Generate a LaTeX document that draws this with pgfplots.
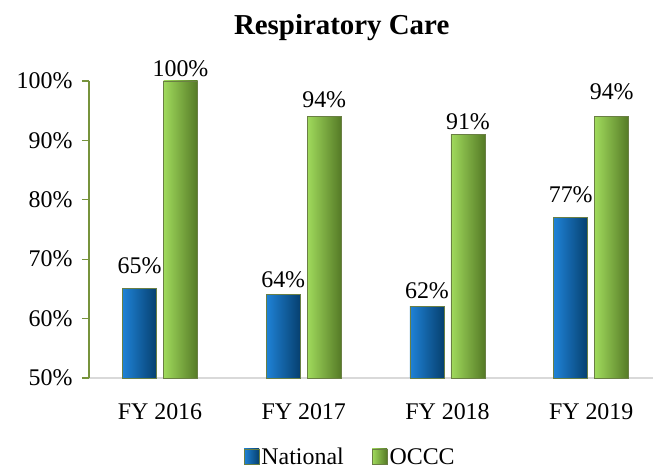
\documentclass[border=0pt]{standalone}
\usepackage{pgfplots}
\pgfplotsset{compat=1.18}
\usepackage{fontspec}
\setmainfont{Liberation Serif}
\definecolor{natL}{HTML}{1F82D6}
\definecolor{natM}{HTML}{0A6EC2}
\definecolor{natR}{HTML}{06406F}
\definecolor{ocL}{HTML}{A0DA5C}
\definecolor{ocM}{HTML}{92D050}
\definecolor{ocR}{HTML}{557A26}
\definecolor{edge}{HTML}{6A7F44}
\definecolor{yline}{HTML}{77933C}
\definecolor{xline}{HTML}{D9D9D9}
\pgfplotsset{
  natbar/.style={left color=natL, middle color=natM, right color=natR, draw=edge, line width=0.8bp, bar shift=-20.5bp},
  ocbar/.style={left color=ocL, middle color=ocM, right color=ocR, draw=edge, line width=0.8bp, bar shift=20.5bp},
  gap/.style={every node near coord/.append style={yshift=#1bp}},
}
\begin{document}
\begin{tikzpicture}[x=1bp,y=1bp]
\begin{axis}[
  at={(0,0)}, anchor=south west,
  scale only axis, width=564bp, height=297bp,
  xmin=-0.494, xmax=3.43, ymin=50, ymax=100,
  clip=false,
  ybar, bar width=34bp,
  axis x line=bottom, axis y line=left,
  x axis line style={-, draw=xline, line width=1.2bp},
  y axis line style={-, draw=yline, line width=1.2bp},
  xtick={0,1,2,3}, xticklabels={FY 2016,FY 2017,FY 2018,FY 2019},
  xtick style={draw=none},
  xticklabel style={anchor=base, yshift=-35bp},
  ytick={50,60,70,80,90,100},
  yticklabels={50\%,60\%,70\%,80\%,90\%,100\%},
  tick align=outside, major tick length=7bp,
  ytick style={draw=yline, line width=1.2bp},
  yticklabel style={xshift=-6bp},
  tick label style={font=\fontsize{24}{28}\selectfont},
  /pgf/number format/assume math mode=true,
  nodes near coords={\pgfmathprintnumber{\pgfplotspointmeta}\%},
  every node near coord/.append style={font=\fontsize{24}{28}\selectfont, anchor=base, text=black},
  title={\textbf{Respiratory Care}},
  title style={font=\fontsize{29}{33}\selectfont, at={(axis description cs:0.448,1)}, anchor=base, yshift=41bp},
  legend columns=2,
  legend style={draw=none, fill=none, at={(axis description cs:0.463,0)}, anchor=center, yshift=-79bp,
    font=\fontsize{24}{28}\selectfont, /tikz/every even column/.append style={column sep=26bp}},
  legend image code/.code={\draw[#1, draw=edge, line width=0.8bp] (0bp,-7bp) rectangle (15bp,8bp);},
]
\addlegendimage{natbar}
\addlegendentry{National}
\addlegendimage{ocbar}
\addlegendentry{OCCC}
\addplot[natbar, gap=15] coordinates {(0,65)};
\addplot[natbar, gap=7]  coordinates {(1,64)};
\addplot[natbar, gap=8]  coordinates {(2,62)};
\addplot[natbar, gap=15] coordinates {(3,77)};
\addplot[ocbar, gap=4]  coordinates {(0,100)};
\addplot[ocbar, gap=9]  coordinates {(1,94)};
\addplot[ocbar, gap=5]  coordinates {(2,91)};
\addplot[ocbar, gap=17] coordinates {(3,94)};
\end{axis}
\pgfresetboundingbox
\useasboundingbox (-89,-95) rectangle (572,378);
\end{tikzpicture}
\end{document}
